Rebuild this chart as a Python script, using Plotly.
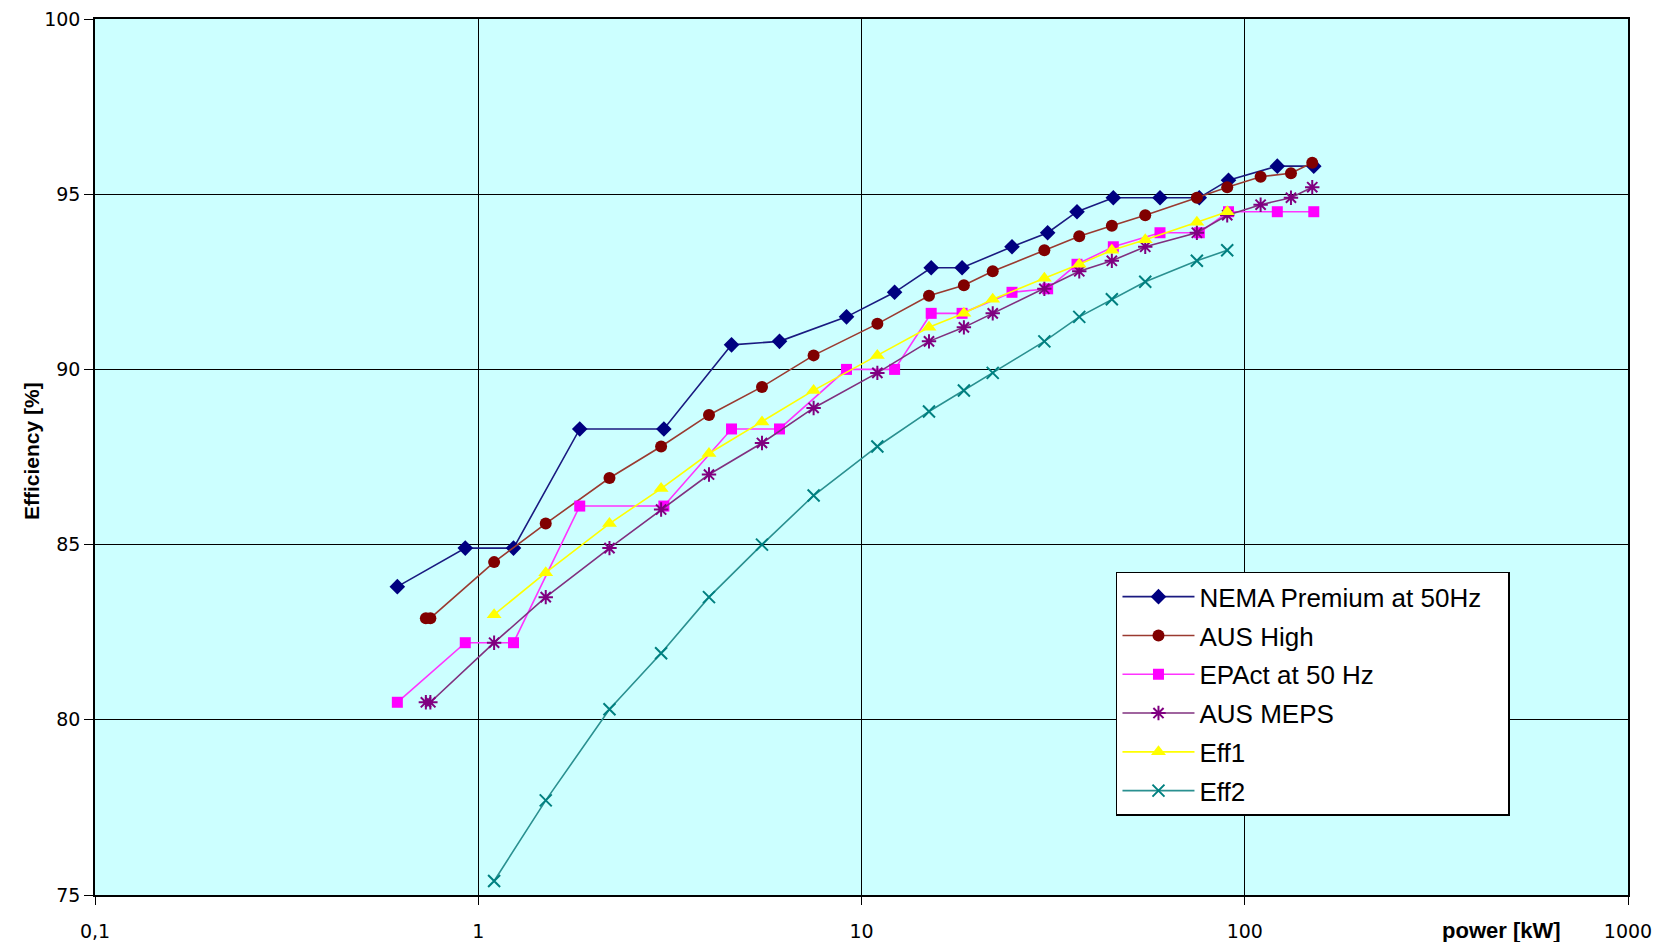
import plotly.graph_objects as go

# ---- data (power in kW, efficiency in %) ----
nema_kw = [0.615, 0.925, 1.236, 1.84, 3.05, 4.58, 6.11, 9.14, 12.2, 15.2, 18.3, 24.7, 30.6, 36.5, 45.4, 60.1, 76.1, 90.7, 121.6, 151.4]
nema_eff = [83.8, 84.9, 84.9, 88.3, 88.3, 90.7, 90.8, 91.5, 92.2, 92.9, 92.9, 93.5, 93.9, 94.5, 94.9, 94.9, 94.9, 95.4, 95.8, 95.8]

aus_kw = [0.73, 0.75, 1.1, 1.5, 2.2, 3, 4, 5.5, 7.5, 11, 15, 18.5, 22, 30, 37, 45, 55, 75, 90, 110, 132, 150]
aus_high_eff = [82.9, 82.9, 84.5, 85.6, 86.9, 87.8, 88.7, 89.5, 90.4, 91.3, 92.1, 92.4, 92.8, 93.4, 93.8, 94.1, 94.4, 94.9, 95.2, 95.5, 95.6, 95.9]
aus_meps_eff = [80.5, 80.5, 82.2, 83.5, 84.9, 86.0, 87.0, 87.9, 88.9, 89.9, 90.8, 91.2, 91.6, 92.3, 92.8, 93.1, 93.5, 93.9, 94.4, 94.7, 94.9, 95.2]

epact_kw = [0.615, 0.925, 1.236, 1.84, 3.05, 4.58, 6.11, 9.14, 12.2, 15.2, 18.3, 24.7, 30.6, 36.5, 45.4, 60.1, 76.1, 90.7, 121.6, 151.4]
epact_eff = [80.5, 82.2, 82.2, 86.1, 86.1, 88.3, 88.3, 90.0, 90.0, 91.6, 91.6, 92.2, 92.3, 93.0, 93.5, 93.9, 93.9, 94.5, 94.5, 94.5]

eff_kw = [1.1, 1.5, 2.2, 3, 4, 5.5, 7.5, 11, 15, 18.5, 22, 30, 37, 45, 55, 75, 90]
eff1_eff = [83.0, 84.2, 85.6, 86.6, 87.6, 88.5, 89.4, 90.4, 91.2, 91.6, 92.0, 92.6, 93.0, 93.4, 93.7, 94.2, 94.5]
eff2_eff = [75.4, 77.7, 80.3, 81.9, 83.5, 85.0, 86.4, 87.8, 88.8, 89.4, 89.9, 90.8, 91.5, 92.0, 92.5, 93.1, 93.4]

x_tickvals = [0.1, 1, 10, 100, 1000]
x_ticktext = ["0,1", "1", "10", "100", "1000"]
y_tickvals = [75, 80, 85, 90, 95, 100]

PAD = "\u00a0\u00a0\u00a0"  # trailing room inside the legend box, as in the original
series = [
    ("NEMA Premium at 50Hz" + PAD, nema_kw, nema_eff, "#000080", "#1a1a80", "diamond", 12, 0),
    ("AUS High", aus_kw, aus_high_eff, "#800000", "#9a3a30", "circle", 12, 0),
    ("EPAct at 50 Hz", epact_kw, epact_eff, "#ff00ff", "#ff33ff", "square", 11, 0),
    ("AUS MEPS", aus_kw, aus_meps_eff, "#800080", "#80307f", "asterisk-open", 12, 2),
    ("Eff1", eff_kw, eff1_eff, "#ffff00", "#ffff00", "triangle-up", 13, 0),
    ("Eff2", eff_kw, eff2_eff, "#008080", "#2a9090", "x-thin-open", 12, 2),
]

fig = go.Figure()
for i, (name, xs, ys, mcol, lcol, sym, size, mlw) in enumerate(series):
    marker = dict(symbol=sym, size=size, color=mcol)
    if mlw:
        marker["line"] = dict(color=mcol, width=mlw)
    else:
        marker["line"] = dict(width=0)
    fig.add_trace(go.Scatter(
        x=xs, y=ys, name=name, mode="lines+markers",
        line=dict(color=lcol, width=1.6),
        marker=marker, legendgroup=f"g{i}",
    ))

fig.update_layout(
    width=1659, height=942,
    margin=dict(l=95, r=31, t=19, b=47, autoexpand=False),
    paper_bgcolor="white",
    plot_bgcolor="#ccffff",
    font=dict(family="Liberation Sans, Arial, sans-serif", color="black"),
    showlegend=True,
    legend=dict(
        x=0.666, y=0.369, xanchor="left", yanchor="top",
        bgcolor="white", bordercolor="black", borderwidth=1.5,
        font=dict(size=26, color="black"),
        tracegroupgap=2, itemwidth=72,
    ),
    xaxis=dict(
        type="log", range=[-1, 3], automargin=False,
        tickvals=x_tickvals, ticktext=x_ticktext,
        tickfont=dict(size=19, family="DejaVu Sans"),
        ticks="outside", ticklen=8, tickcolor="black",
        ticklabelstandoff=10, ticklabeloverflow="allow",
        showgrid=True, gridcolor="black", gridwidth=1,
        showline=True, linecolor="black", linewidth=2, mirror=True,
        zeroline=False,
    ),
    yaxis=dict(
        range=[75, 100], tickvals=y_tickvals, automargin=False,
        tickfont=dict(size=19, family="DejaVu Sans"),
        ticks="outside", ticklen=9, tickcolor="black",
        ticklabeloverflow="allow",
        showgrid=True, gridcolor="black", gridwidth=1,
        showline=True, linecolor="black", linewidth=1.5, mirror=True,
        zeroline=False,
    ),
    annotations=[
        dict(text="<b>power [kW]</b>", xref="paper", yref="paper",
             x=0.9172, y=-0.041, xanchor="center", yanchor="middle",
             showarrow=False, font=dict(size=22)),
        dict(text="<b>Efficiency [%]</b>", xref="paper", yref="paper",
             x=-0.041, y=0.507, xanchor="center", yanchor="middle",
             textangle=-90, showarrow=False, font=dict(size=21)),
    ],
)

fig.write_html(
    "out.html",
    config={"displayModeBar": False},
    post_script="document.body.style.margin='0';document.body.style.overflow='hidden';",
)
